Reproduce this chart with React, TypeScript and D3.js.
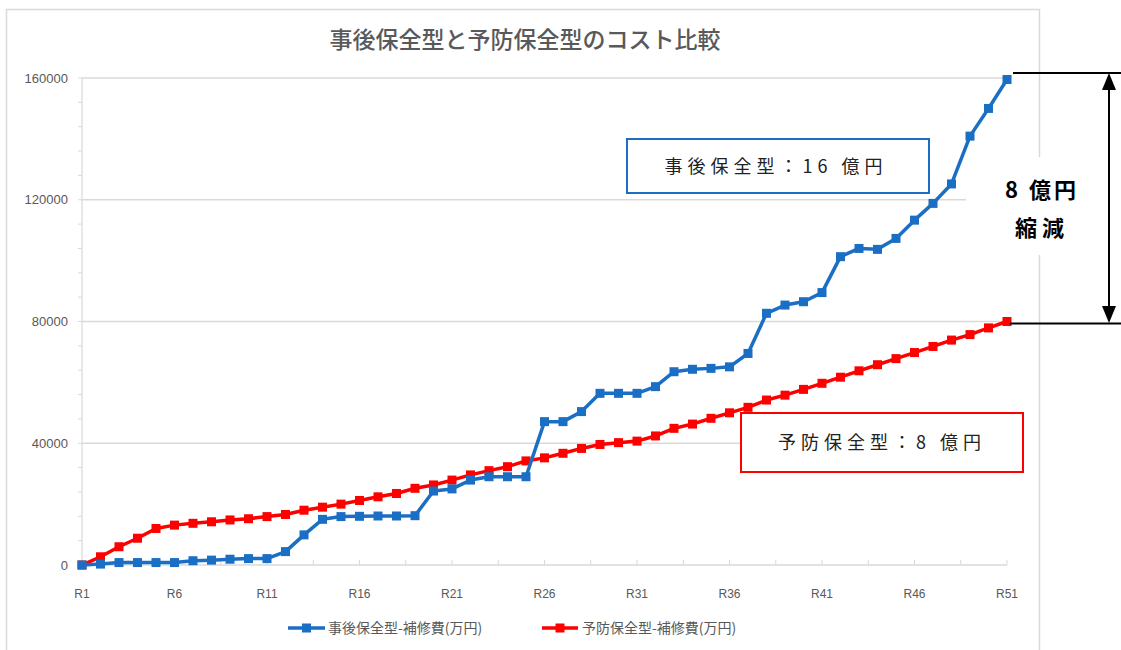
import React from 'react';
import * as d3 from 'd3';

// categories R1..R51
const years = ["R1","R2","R3","R4","R5","R6","R7","R8","R9","R10","R11","R12","R13","R14","R15","R16","R17","R18","R19","R20","R21","R22","R23","R24","R25","R26","R27","R28","R29","R30","R31","R32","R33","R34","R35","R36","R37","R38","R39","R40","R41","R42","R43","R44","R45","R46","R47","R48","R49","R50","R51"];

// 事後保全型 cumulative cost (万円)
const jigo = [0,300,800,800,800,800,1400,1600,1900,2100,2100,4400,9900,15000,15900,16000,16100,16100,16200,24300,25000,27900,29000,29000,29000,47100,47100,50400,56400,56400,56400,58600,63500,64300,64600,65100,69500,82700,85400,86500,89500,101300,104000,103700,107300,113300,118800,125200,140900,150000,159500];

// 予防保全型 cumulative cost (万円)
const yobo = [0,2700,6000,8800,12000,13100,13700,14200,14800,15200,15900,16600,18000,19000,20000,21200,22400,23500,25200,26300,27900,29600,31000,32300,34200,35200,36700,38300,39600,40200,40700,42400,44900,46300,48200,50000,51800,54200,55800,57700,59700,61700,63800,65800,67800,69800,71800,73900,75700,77900,80000];

const yTicks = [0, 40000, 80000, 120000, 160000];
const xLabels = ["R1","R6","R11","R16","R21","R26","R31","R36","R41","R46","R51"];

const title = "事後保全型と予防保全型のコスト比較";
const seriesNames = ["事後保全型-補修費(万円)", "予防保全型-補修費(万円)"];

const BLUE = "#1a6fc4";
const RED = "#ff0000";
const GRAY = "#595959";
const FONT = "'Noto Sans CJK JP', 'Noto Sans', sans-serif";

export default function App() {
  const W = 1121, H = 650;
  const x = d3.scalePoint().domain(years).range([82, 1007]);
  const y = d3.scaleLinear().domain([0, 160000]).range([565, 78]);
  const step = x.step();

  const line = d3.line<number>()
    .x((d, i) => x(years[i]) as number)
    .y(d => y(d));

  const minorY = d3.range(0, 160001, 8000);
  const minorX = d3.range(0, years.length - 0.5, 2.5);

  const renderSeries = (vals: number[], color: string) => (
    <g>
      <path d={line(vals) || ""} fill="none" stroke={color} strokeWidth={3.5} strokeLinejoin="round" />
      {vals.map((v, i) => (
        <rect key={i} x={(x(years[i]) as number) - 4.5} y={y(v) - 4.5} width={9} height={9} fill={color} />
      ))}
    </g>
  );

  return (
    <svg width={W} height={H} style={{ position: 'absolute', left: 0, top: 0, background: '#fff' }}>
      {/* chart frame */}
      <rect x={6.5} y={9.5} width={1033} height={650} fill="#fff" stroke="#d9d9d9" strokeWidth={1.5} />

      <text x={525} y={48} textAnchor="middle" fontFamily={FONT} fontSize={23} fill={GRAY} fontWeight={500}>{title}</text>

      {/* gridlines */}
      {yTicks.slice(1).map(t => (
        <line key={t} x1={82} x2={1007} y1={y(t)} y2={y(t)} stroke="#d9d9d9" strokeWidth={1.5} />
      ))}
      {/* y axis */}
      <line x1={82} x2={82} y1={y(160000)} y2={y(0)} stroke="#d9d9d9" strokeWidth={1.2} />
      {minorY.map(t => (
        <line key={t} x1={78} x2={82} y1={y(t)} y2={y(t)} stroke="#d9d9d9" />
      ))}
      {yTicks.map(t => (
        <text key={t} x={68} y={y(t)} dy="0.35em" textAnchor="end" fontFamily="'Liberation Sans', sans-serif" fontSize={13} fill={GRAY}>{t}</text>
      ))}
      {/* x axis */}
      <line x1={82} x2={1007} y1={565} y2={565} stroke="#d9d9d9" strokeWidth={1.5} />
      {minorX.map(i => (
        <line key={i} x1={82 + i * step} x2={82 + i * step} y1={560} y2={565} stroke="#d9d9d9" />
      ))}
      {xLabels.map(l => (
        <text key={l} x={x(l) as number} y={598} textAnchor="middle" fontFamily="'Liberation Sans', sans-serif" fontSize={12} fill={GRAY}>{l}</text>
      ))}

      {renderSeries(yobo, RED)}
      {renderSeries(jigo, BLUE)}

      {/* legend */}
      <line x1={288} x2={325} y1={628} y2={628} stroke={BLUE} strokeWidth={3.5} />
      <rect x={302} y={623.5} width={9} height={9} fill={BLUE} />
      <text x={328} y={628} dy="0.35em" fontFamily={FONT} fontSize={14} fill={GRAY}>{seriesNames[0]}</text>
      <line x1={542} x2={578} y1={628} y2={628} stroke={RED} strokeWidth={3.5} />
      <rect x={555.5} y={623.5} width={9} height={9} fill={RED} />
      <text x={582} y={628} dy="0.35em" fontFamily={FONT} fontSize={14} fill={GRAY}>{seriesNames[1]}</text>

      {/* annotation boxes */}
      <rect x={627} y={139} width={302} height={54} fill="#fff" stroke={BLUE} strokeWidth={2} />
      <text x={776} y={167} dy="0.35em" textAnchor="middle" fontFamily={FONT} fontSize={18} letterSpacing={5} fill="#222">事後保全型：16 億円</text>
      <rect x={741} y={413} width={282} height={59} fill="#fff" stroke={RED} strokeWidth={2} />
      <text x={882} y={443} dy="0.35em" textAnchor="middle" fontFamily={FONT} fontSize={18} letterSpacing={5} fill="#222">予防保全型：8 億円</text>

      {/* difference marker */}
      <rect x={966} y={157} width={136} height={98} fill="#fff" />
      <line x1={1013} x2={1121} y1={y(160000) - 5} y2={y(160000) - 5} stroke="#000" strokeWidth={2} />
      <line x1={1010} x2={1121} y1={y(80000) + 2} y2={y(80000) + 2} stroke="#000" strokeWidth={2} />
      <line x1={1109} x2={1109} y1={82} y2={314} stroke="#000" strokeWidth={2} />
      <path d={`M1109,73 L1102,90 L1116,90 Z`} fill="#000" />
      <path d={`M1109,323 L1102,306 L1116,306 Z`} fill="#000" />
      <text x={1042} y={190} dy="0.35em" textAnchor="middle" fontFamily={FONT} fontSize={22} fontWeight={700} letterSpacing={3} fill="#000">8 億円</text>
      <text x={1042} y={228} dy="0.35em" textAnchor="middle" fontFamily={FONT} fontSize={22} fontWeight={700} letterSpacing={5} fill="#000">縮減</text>
    </svg>
  );
}
